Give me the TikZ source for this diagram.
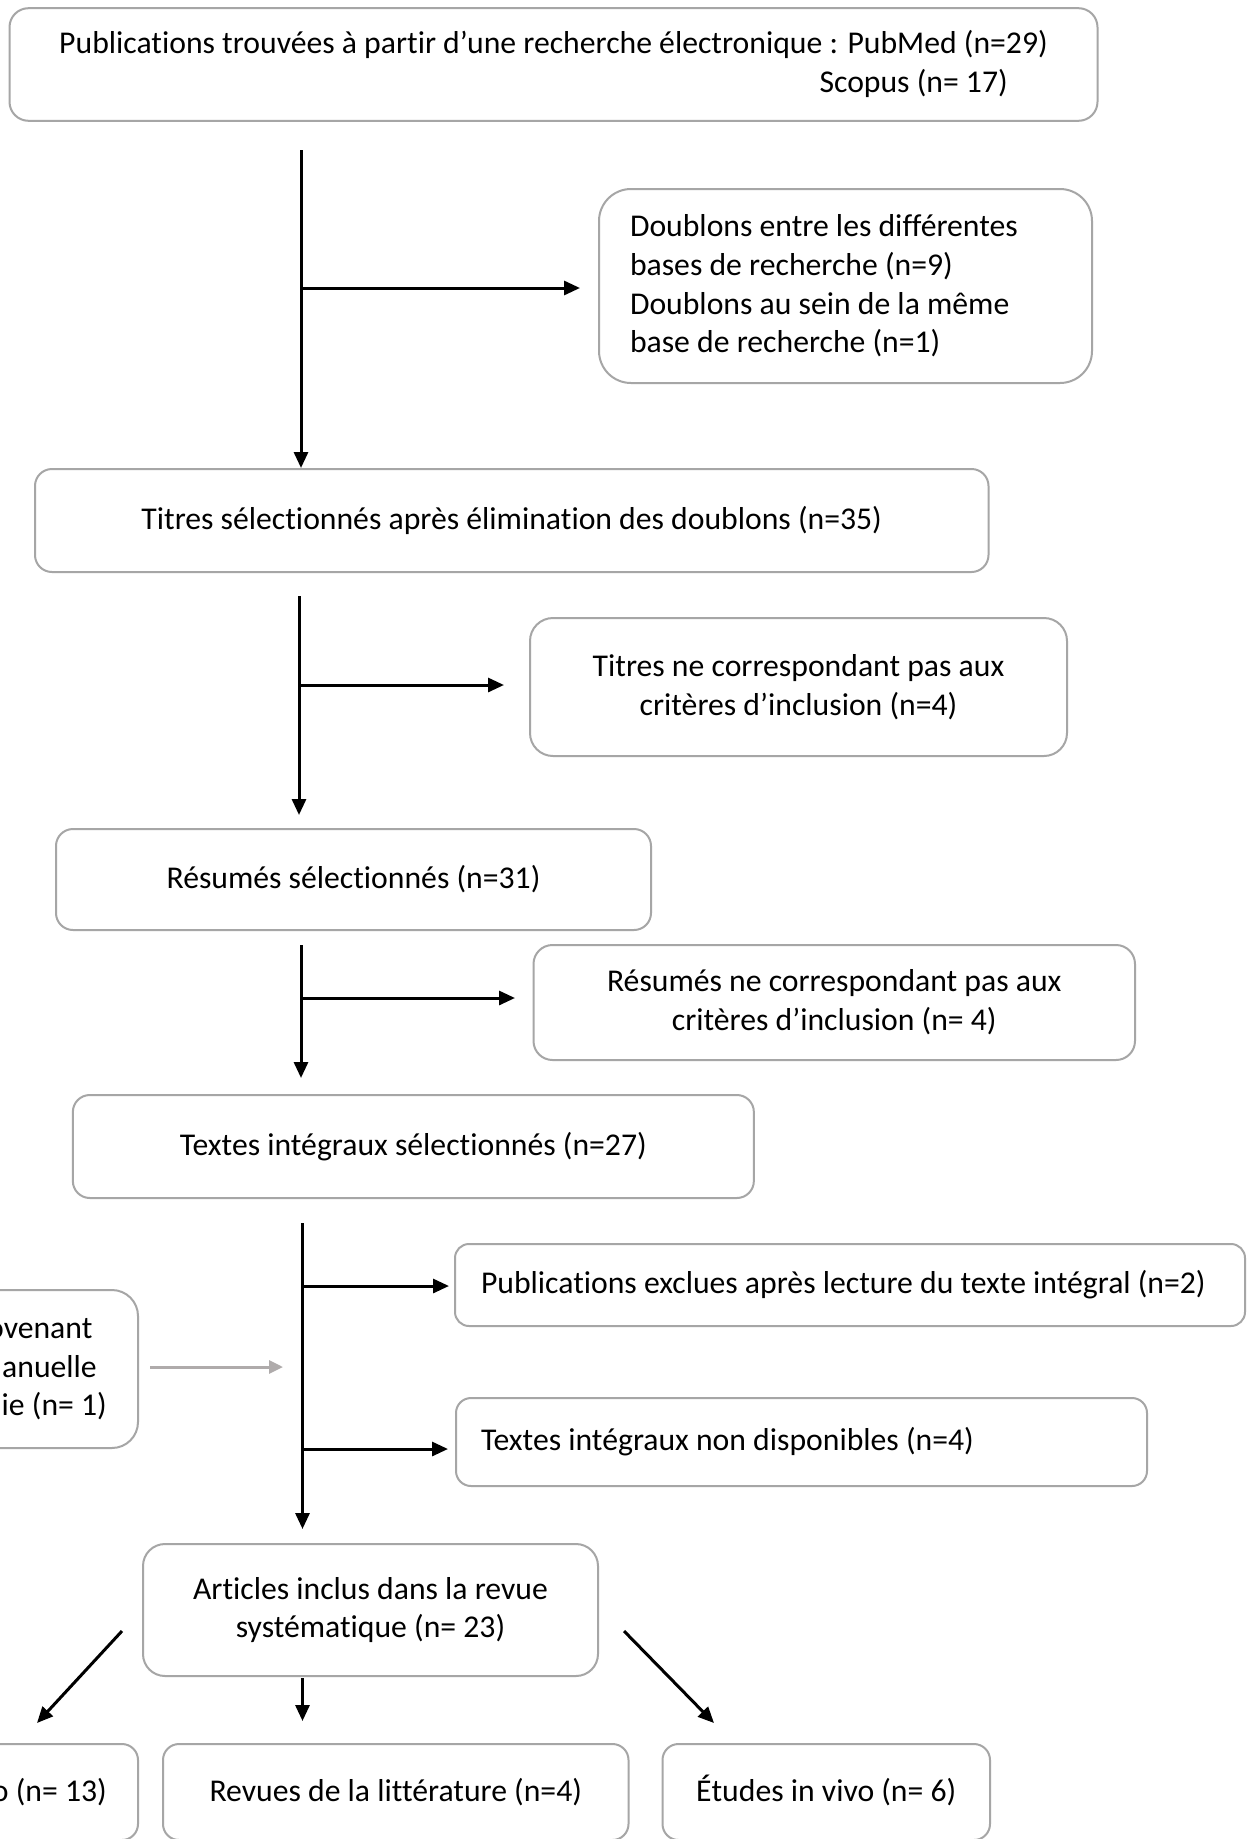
\documentclass[tikz,border=0pt]{standalone}
\usepackage{fontspec}
\setmainfont{Carlito}[Ligatures={NoCommon}]
\usetikzlibrary{arrows.meta}
\definecolor{boxgray}{RGB}{166,166,166}
\definecolor{arrgray}{RGB}{175,171,171}
\newcommand{\natsp}{\spaceskip=0pt\xspaceskip=0pt\relax}
\tikzset{
  box/.style={draw=boxgray, line width=2pt, fill=white, inner sep=0pt, align=center,
    font=\fontsize{31.7pt}{38.7pt}\selectfont},
  lbox/.style={box, align=left},
  txt/.style={inner sep=0pt, font=\fontsize{31.7pt}{38.7pt}\selectfont},
  arr/.style={line width=3pt, -{Triangle[length=16pt,width=14pt]}},
  garr/.style={line width=3pt, draw=arrgray, -{Triangle[length=14pt,width=13pt]}}
}
\begin{document}
\begin{tikzpicture}[x=1pt,y=-1pt]
\useasboundingbox (0,0) rectangle (1250,1839);
\fill[white] (0,0) rectangle (1250,1839);

% boxes
\node[box, minimum width=1088pt, minimum height=112.6pt, rounded corners=19pt] (pub) at (553.5,64.5) {};
\node[txt] (pubA) at (553.5,44.6) {Publications trouvées à partir d’une recherche électronique : PubMed (n=29)};
\node[txt, anchor=east] (pubB) at (1008,83.3) {Scopus (n= 17)};

\node[lbox, minimum width=493pt, minimum height=194pt, rounded corners=32pt, inner xsep=31pt, text width=431pt] (dbl) at (845.5,286)
 {\natsp Doublons entre les différentes\\\natsp bases de recherche (n=9)\\\natsp Doublons au sein de la même\\\natsp base de recherche (n=1)};

\node[box, minimum width=953.5pt, minimum height=103pt, rounded corners=17pt] (tit) at (511.75,520.5)
 {Titres sélectionnés après élimination des doublons (n=35)};

\node[box, minimum width=537pt, minimum height=138pt, rounded corners=23pt] (ntit) at (798.5,687)
 {Titres ne correspondant pas aux\\critères d’inclusion (n=4)};

\node[box, minimum width=595pt, minimum height=101pt, rounded corners=17pt] (res) at (353.5,879.5)
 {Résumés sélectionnés (n=31)};

\node[box, minimum width=601.5pt, minimum height=115pt, rounded corners=19pt] (nres) at (834.25,1002.5)
 {Résumés ne correspondant pas aux\\critères d’inclusion (n= 4)};

\node[box, minimum width=681pt, minimum height=103pt, rounded corners=17pt] (txi) at (413.35,1146.5)
 {Textes intégraux sélectionnés (n=27)};

\node[lbox, minimum width=790pt, minimum height=82pt, rounded corners=14pt, inner xsep=26pt, text width=738pt] (exc) at (850,1285)
 {\natsp Publications exclues après lecture du texte intégral (n=2)};

\node[lbox, minimum width=691pt, minimum height=88pt, rounded corners=15pt, inner xsep=25pt, text width=641pt] (ndis) at (801.5,1442)
 {\natsp Textes intégraux non disponibles (n=4)};

\node[box, minimum width=400pt, minimum height=158pt, rounded corners=26pt] (man) at (-62,1369) {};
\node[txt, anchor=east] (manA) at (92.6,1328.5) {ovenant};
\node[txt, anchor=east] (manB) at (97,1367) {anuelle};
\node[txt, anchor=east] (manC) at (107,1406) {ie (n= 1)};

\node[box, minimum width=455pt, minimum height=132pt, rounded corners=22pt] (art) at (370.5,1610)
 {Articles inclus dans la revue\\systématique (n= 23)};

\node[box, minimum width=400pt, minimum height=96pt, rounded corners=16pt] (vitro) at (-62,1792) {};
\node[txt, anchor=east] (vitroT) at (107,1792) {o (n= 13)};

\node[box, minimum width=465.5pt, minimum height=96pt, rounded corners=16pt] (rev) at (395.75,1792)
 {Revues de la littérature (n=4)};

\node[box, minimum width=327.5pt, minimum height=96pt, rounded corners=16pt] (viv) at (826.25,1792)
 {\smash{É}tudes in vivo (n= 6)};

% arrow 1
\coordinate (a1t) at (301,150);
\coordinate (a1b) at (301,288);
\coordinate (a1e) at (580,288);
\draw[arr] (a1t) -- (a1t |- tit.north);
\draw[arr] (a1b) -- (a1e);

% arrow 2
\coordinate (a2t) at (299,596);
\coordinate (a2d) at (299,815);
\coordinate (a2b) at (299,685);
\coordinate (a2e) at (504,685);
\draw[arr] (a2t) -- (a2d);
\draw[arr] (a2b) -- (a2e);

% arrow 3
\coordinate (a3t) at (301,945);
\coordinate (a3d) at (301,1078);
\coordinate (a3b) at (301,998);
\coordinate (a3e) at (515,998);
\draw[arr] (a3t) -- (a3d);
\draw[arr] (a3b) -- (a3e);

% arrow 4
\coordinate (a4t) at (302.5,1223);
\coordinate (a4d) at (302.5,1529);
\coordinate (a4b1) at (302.5,1286);
\coordinate (a4e1) at (449,1286);
\coordinate (a4b2) at (302.5,1449);
\coordinate (a4e2) at (448,1449);
\draw[arr] (a4t) -- (a4d);
\draw[arr] (a4b1) -- (a4e1);
\draw[arr] (a4b2) -- (a4e2);

% grey arrow
\coordinate (g1) at (150,1367);
\coordinate (g2) at (283,1367);
\draw[garr] (g1) -- (g2);

% bottom arrows
\coordinate (l1) at (122,1631);
\coordinate (l2) at (37,1723);
\coordinate (m1) at (302.5,1678);
\coordinate (m2) at (302.5,1721);
\coordinate (r1) at (624,1631);
\coordinate (r2) at (714,1723);
\draw[arr] (l1) -- (l2);
\draw[arr] (m1) -- (m2);
\draw[arr] (r1) -- (r2);
\end{tikzpicture}
\end{document}
